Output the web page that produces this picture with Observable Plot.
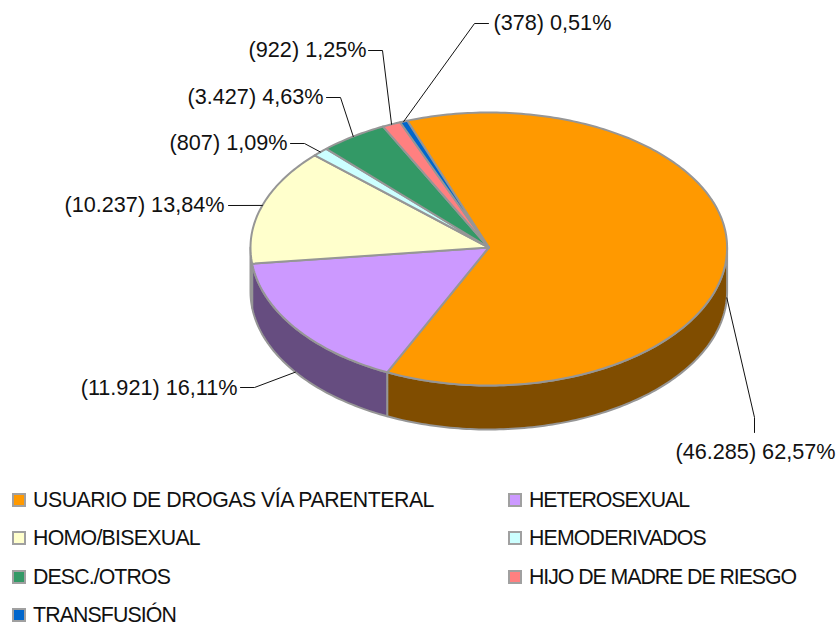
<!DOCTYPE html>
<html>
<head>
<meta charset="utf-8">
<script src="https://cdn.jsdelivr.net/npm/d3@7"></script>
<script src="https://cdn.jsdelivr.net/npm/@observablehq/plot@0.6"></script>
<style>
html,body{margin:0;padding:0;background:#fff;overflow:hidden}
svg{display:block}
#legend{display:grid;grid-template-columns:496px auto;row-gap:20.33px;padding-left:11.5px;font:21.3px/18px "Liberation Sans",Arial,sans-serif;color:#111}
#legend div{display:flex;align-items:center;white-space:nowrap}
#legend i{display:inline-block;box-sizing:border-box;width:14px;height:14px;border:2px solid #a0a0a0;margin-right:7.5px;flex:none}
</style>
</head>
<body>
<div id="chart"></div>
<div id="legend"></div>
<script>
const categories = ["USUARIO DE DROGAS VÍA PARENTERAL","HETEROSEXUAL","HOMO/BISEXUAL","HEMODERIVADOS","DESC./OTROS","HIJO DE MADRE DE RIESGO","TRANSFUSIÓN"];
const counts = [46285,11921,10237,807,3427,922,378];
const percents = [62.57,16.11,13.84,1.09,4.63,1.25,0.51];
const colors = ["#ff9900","#cc99ff","#ffffcc","#ccffff","#339966","#ff8080","#0066cc"];
const legendWidths = [401,160,167,177,137,267,143];

// Layout: pie frame and label placement, in pixels
const W = 837, H = 491, cx = 488.3, rx = 238.3, cy = 247, ry = 138, topSquash = 0.978, depth = 44, startDeg = -20;
const elbows = [[[754,417],[754,432]],[[254,387],[240,387]],[[228,205]],[[304,143],[290,143]],[[340,97],[326,97]],[[382,50],[368,50]],[[474,23],[488,23]]];
const labelAt = [[755,452,"middle"],[237,388,"end"],[224,205,"end"],[287,143,"end"],[323,97,"end"],[366,50,"end"],[493,23,"start"]];

const ux = p => (p - cx) / rx, uy = p => (cy - p) / ry;
const pxDepth = depth / ry;
const rad = d => d * Math.PI / 180;
const ex = a => Math.sin(rad(a));
const ey = a => { const c = Math.cos(rad(a)); return c > 0 ? c * topSquash : c; };
const total = d3.sum(counts);
let acc = startDeg;
const slices = counts.map((c, i) => { const a0 = acc; acc += c / total * 360; return {i, a0, a1: acc, mid: (a0 + acc) / 2}; });
const arcPts = (a0, a1) => { const n = Math.max(2, Math.ceil(Math.abs(a1 - a0))); return d3.range(n + 1).map(k => a0 + (a1 - a0) * k / n); };

const es = d3.formatLocale({decimal:",",thousands:".",grouping:[3],currency:["","€"]});
const fCount = es.format(",d"), fPct = es.format(".2f");
const labels = counts.map((c, i) => `(${fCount(c)}) ${fPct(percents[i])}%`);

const marks = [];
const half = col => { const c = d3.rgb(col); return d3.rgb(c.r / 2, c.g / 2, c.b / 2).formatHex(); };
const common = {x: "x", y: "y", strokeWidth: 2, stroke: "#969696", strokeLinejoin: "round", curve: "linear"};

// side walls (visible lower half of the rim)
for (const s of slices) {
  const a0 = Math.max(s.a0, 90), a1 = Math.min(s.a1, 270);
  if (a1 <= a0) continue;
  const pts = arcPts(a0, a1);
  const top = pts.map(a => ({x: ex(a), y: ey(a)}));
  const bot = pts.slice().reverse().map(a => ({x: ex(a), y: ey(a) - pxDepth}));
  marks.push(Plot.line([...top, ...bot, top[0]], {...common, fill: half(colors[s.i])}));
}
// top faces
for (const s of slices) {
  const rim = arcPts(s.a0, s.a1).map(a => ({x: ex(a), y: ey(a)}));
  marks.push(Plot.line([{x: 0, y: 0}, ...rim, {x: 0, y: 0}], {...common, fill: colors[s.i]}));
}
// leaders
slices.forEach(s => {
  const c = Math.cos(rad(s.mid));
  const start = {x: ex(s.mid), y: ey(s.mid) - (c < 0 ? pxDepth : 0)};
  const pts = [start, ...elbows[s.i].map(([px, py]) => ({x: ux(px), y: uy(py)}))];
  marks.push(Plot.line(pts, {x: "x", y: "y", stroke: "#111", strokeWidth: 1, curve: "linear"}));
});
// labels
labels.forEach((t, i) => {
  const [px, py, anchor] = labelAt[i];
  marks.push(Plot.text([t], {x: () => ux(px), y: () => uy(py), text: d => d, textAnchor: anchor, fontSize: 21.65, fontFamily: "Liberation Sans", fill: "#111"}));
});

const chart = Plot.plot({
  width: W, height: H, margin: 0,
  x: {domain: [-1, 1], range: [cx - rx, cx + rx], axis: null},
  y: {domain: [-1, 1], range: [cy + ry, cy - ry], axis: null},
  style: {background: "#fff"},
  marks
});
document.getElementById("chart").append(chart);

const legend = document.getElementById("legend");
categories.forEach((c, i) => {
  const d = document.createElement("div");
  const sw = document.createElement("i");
  sw.style.background = colors[i];
  const label = document.createElement("span");
  label.textContent = c;
  d.append(sw, label);
  legend.append(d);
  const natural = label.getBoundingClientRect().width;
  label.style.letterSpacing = ((legendWidths[i] - natural) / c.length) + "px";
});
</script>
</body>
</html>
